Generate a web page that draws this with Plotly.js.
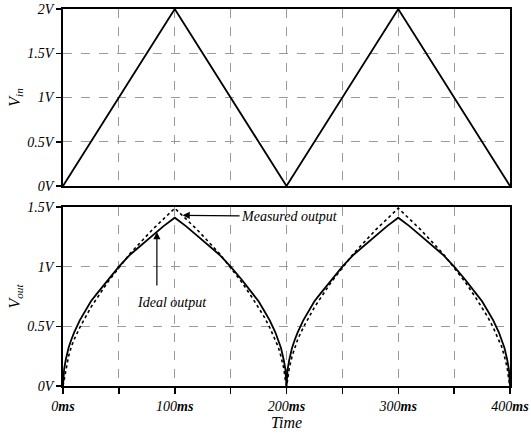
<!DOCTYPE html>
<html>
<head>
<meta charset="utf-8">
<script src="https://cdn.plot.ly/plotly-3.0.1.min.js"></script>
<style>body{margin:0;padding:0;background:#fff}#chart{width:531px;height:434px}</style>
</head>
<body>
<div id="chart"></div>
<script>
// Input triangle wave
const timeIn = [0, 100, 200, 300, 400];
const vin = [0, 2, 0, 2, 0];

// Output sample times (ms)
const timeOut = [0, 1, 2.5, 5, 7.5, 10, 15, 20, 25, 30, 40, 50, 60, 70, 80, 90, 100,
  110, 120, 130, 140, 150, 160, 170, 175, 180, 185, 190, 192.5, 195, 197.5, 199, 200,
  201, 202.5, 205, 207.5, 210, 215, 220, 225, 230, 240, 250, 260, 270, 280, 290, 300,
  310, 320, 330, 340, 350, 360, 370, 375, 380, 385, 390, 392.5, 395, 397.5, 399, 400];

const idealOut = [0, 0.14, 0.22, 0.32, 0.39, 0.45, 0.55, 0.63, 0.71, 0.77, 0.89, 1.0, 1.1, 1.18, 1.26, 1.34, 1.41,
  1.34, 1.26, 1.18, 1.1, 1.0, 0.89, 0.77, 0.71, 0.63, 0.55, 0.45, 0.39, 0.32, 0.22, 0.14, 0,
  0.14, 0.22, 0.32, 0.39, 0.45, 0.55, 0.63, 0.71, 0.77, 0.89, 1.0, 1.1, 1.18, 1.26, 1.34, 1.41,
  1.34, 1.26, 1.18, 1.1, 1.0, 0.89, 0.77, 0.71, 0.63, 0.55, 0.45, 0.39, 0.32, 0.22, 0.14, 0];

const measuredOut = [0, 0.05, 0.15, 0.25, 0.33, 0.39, 0.49, 0.58, 0.66, 0.73, 0.87, 0.99, 1.11, 1.21, 1.31, 1.40, 1.49,
  1.40, 1.31, 1.21, 1.11, 0.99, 0.87, 0.73, 0.66, 0.58, 0.49, 0.39, 0.33, 0.25, 0.15, 0.05, 0,
  0.05, 0.15, 0.25, 0.33, 0.39, 0.49, 0.58, 0.66, 0.73, 0.87, 0.99, 1.11, 1.21, 1.31, 1.40, 1.49,
  1.40, 1.31, 1.21, 1.11, 0.99, 0.87, 0.73, 0.66, 0.58, 0.49, 0.39, 0.33, 0.25, 0.15, 0.05, 0];

const xTickVals = [0, 100, 200, 300, 400];
const xTickText = ['0<b>ms</b>', '100<b>ms</b>', '200<b>ms</b>', '300<b>ms</b>', '400<b>ms</b>'];
const yInTickVals = [0, 0.5, 1, 1.5, 2];
const yInTickText = ['0V', '0.5V', '1V', '1.5V', '2V'];
const yOutTickVals = [0, 0.5, 1, 1.5];
const yOutTickText = ['0V', '0.5V', '1V', '1.5V'];

const serif = '"Times New Roman", "Liberation Serif", Times, serif';

const traces = [
  {x: timeIn, y: vin, xaxis: 'x', yaxis: 'y', mode: 'lines', line: {color: '#000', width: 1.8}, name: 'Vin'},
  {x: timeOut, y: idealOut, xaxis: 'x2', yaxis: 'y2', mode: 'lines', line: {color: '#000', width: 1.8}, name: 'Ideal output'},
  {x: timeOut, y: measuredOut, xaxis: 'x2', yaxis: 'y2', mode: 'lines', line: {color: '#000', width: 1.6, dash: 'dot'}, name: 'Measured output'}
];

const gridCommon = {showgrid: true, gridcolor: '#9a9a9a', griddash: 'dash', gridwidth: 1,
  showline: true, linecolor: '#000', linewidth: 2, mirror: true, zeroline: false};
const minorX = {dtick: 50, tick0: 0, showgrid: true, gridcolor: '#9a9a9a', griddash: 'dash', gridwidth: 1};

const layout = {
  width: 531, height: 434,
  margin: {l: 63, r: 21, t: 9, b: 48},
  paper_bgcolor: '#fff', plot_bgcolor: '#fff',
  showlegend: false,
  font: {family: serif, color: '#000', size: 14},
  xaxis: Object.assign({}, gridCommon, {domain: [0, 1], range: [0, 400], anchor: 'y',
    tickvals: xTickVals, showticklabels: false, ticks: '', minor: Object.assign({}, minorX, {ticks: ''})}),
  yaxis: Object.assign({}, gridCommon, {domain: [0.5305, 1], range: [0, 2], anchor: 'x',
    tickvals: yInTickVals, ticktext: yInTickText, ticks: 'outside', ticklen: 5, tickwidth: 1.5, tickcolor: '#000',
    tickfont: {family: serif, size: 14, style: 'italic'},
    title: {text: '<i>V<sub>in</sub></i>', font: {family: serif, size: 16}, standoff: 3}}),
  xaxis2: Object.assign({}, gridCommon, {domain: [0, 1], range: [0, 400], anchor: 'y2',
    tickvals: xTickVals, ticktext: xTickText, ticks: 'outside', ticklen: 6, tickwidth: 1.5, tickcolor: '#000',
    minor: Object.assign({}, minorX, {ticks: 'outside', ticklen: 6, tickwidth: 1.5, tickcolor: '#000'}),
    tickfont: {family: serif, size: 14, style: 'italic'},
    title: {text: '<i>Time</i>', font: {family: serif, size: 16}, standoff: 2}}),
  yaxis2: Object.assign({}, gridCommon, {domain: [0, 0.4748], range: [0, 1.5], anchor: 'x2',
    tickvals: yOutTickVals, ticktext: yOutTickText, ticks: 'outside', ticklen: 5, tickwidth: 1.5, tickcolor: '#000',
    tickfont: {family: serif, size: 14, style: 'italic'},
    title: {text: '<i>V<sub>out</sub></i>', font: {family: serif, size: 16}, standoff: 3}}),
  annotations: [
    {xref: 'x2', yref: 'y2', x: 107, y: 1.43, text: '<i>Measured output</i>', showarrow: true,
      arrowhead: 2, arrowsize: 1.2, arrowwidth: 1.2, arrowcolor: '#000', ax: 107, ay: 1,
      font: {family: serif, size: 14}},
    {xref: 'x2', yref: 'y2', x: 84, y: 1.29, text: '', showarrow: true, arrowhead: 2, arrowsize: 1.2, arrowwidth: 1.2,
      arrowcolor: '#000', ax: 0, ay: 55},
    {xref: 'x2', yref: 'y2', x: 97.5, y: 0.70, text: '<i>Ideal output</i>', showarrow: false,
      font: {family: serif, size: 14}}
  ]
};

Plotly.newPlot('chart', traces, layout, {displayModeBar: false, staticPlot: true});
</script>
</body>
</html>
